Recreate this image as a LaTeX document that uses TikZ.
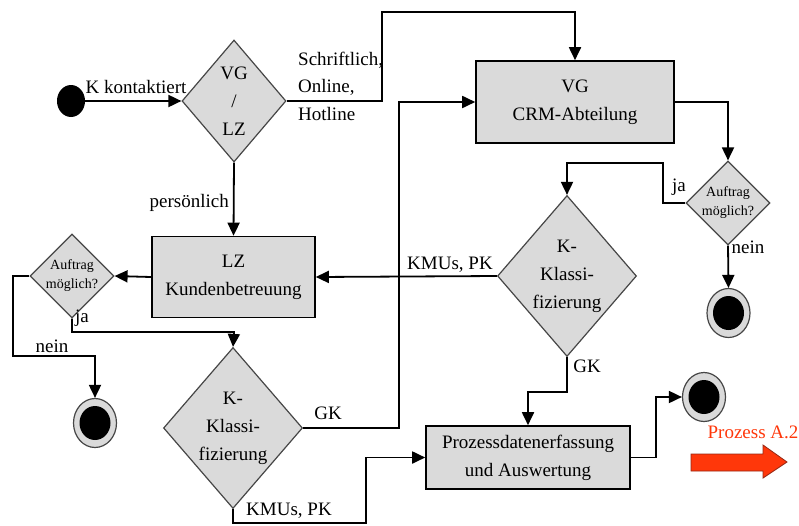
\documentclass[tikz,border=0pt]{standalone}
\usepackage{fontspec}
\setmainfont{Liberation Serif}
\usetikzlibrary{shapes.geometric,arrows.meta}
\definecolor{boxgray}{RGB}{218,218,218}
\definecolor{edgegray}{RGB}{70,70,70}
\definecolor{procred}{RGB}{255,55,10}
\definecolor{procedge}{RGB}{150,40,20}
\begin{document}
\begin{tikzpicture}[x=1pt,y=-1pt,
  every node/.style={font=\fontsize{19}{28}\selectfont},
  arr/.style={line width=1.8pt,-{Triangle[length=13pt,width=12pt]}},
  lbl/.style={inner sep=0pt},
  procbox/.style={rectangle,draw=black,line width=1.6pt,fill=boxgray,align=center,inner sep=0pt},
  decision/.style={diamond,draw=edgegray,line width=1.2pt,fill=boxgray,align=center,inner sep=0pt},
  smalldecision/.style={decision,font=\fontsize{14}{19}\selectfont,shape aspect=1,
    minimum width=78pt,minimum height=76pt},
  endring/.style={ellipse,draw=edgegray,line width=1.2pt,fill=boxgray,minimum width=43pt,minimum height=49pt,inner sep=0pt},
  enddot/.style={ellipse,fill=black,minimum width=31pt,minimum height=34pt,inner sep=0pt},
]
\useasboundingbox (0,0) rectangle (799,525);

% start
\node[ellipse,fill=black,minimum width=28pt,minimum height=32pt,inner sep=0pt] (start) at (71,101) {};

% decisions
\node[decision,shape aspect=0.85,minimum width=104pt,minimum height=122pt] (d1) at (234,101) {VG\\/\\LZ};
\node[decision,shape aspect=0.86,minimum width=139pt,minimum height=161pt] (d2) at (233,428) {K-\\Klassi-\\fizierung};
\node[decision,shape aspect=0.86,minimum width=139pt,minimum height=161pt] (d3) at (567,276) {K-\\Klassi-\\fizierung};
\node[smalldecision] (aufL) at (72,276) {Auftrag\\möglich?};
\node[smalldecision] (aufR) at (728,203) {Auftrag\\möglich?};

% activity boxes
\node[procbox,minimum width=198pt,minimum height=82pt] (crm) at (575,102) {VG\\CRM-Abteilung};
\node[procbox,minimum width=163pt,minimum height=81pt] (lz) at (233.5,277) {LZ\\Kundenbetreuung};
\node[procbox,minimum width=204pt,minimum height=63pt] (proc) at (528,457.5) {Prozessdatenerfassung\\und Auswertung};

% end states
\node[endring] (endL) at (95,423) {};
\node[enddot] (endLdot) at (95,423) {};
\node[endring] (endR) at (728.5,313) {};
\node[enddot] (endRdot) at (728.5,313) {};
\node[endring] (endB) at (704,397) {};
\node[enddot] (endBdot) at (704,397) {};

% bend points
\coordinate (c1) at (382,12);
\coordinate (c2) at (13,356);
\coordinate (c3) at (234,332);
\coordinate (c4) at (399,300);
\coordinate (c5) at (366,523);
\coordinate (c6) at (663,163);
\coordinate (c7) at (528,392);
\coordinate (c8) at (656,397);

% connectors
\draw[arr] (start) -- (d1.west);
\draw[arr] (d1.east) -| (c1) -| (crm.north);
\draw[arr] (d1.south) -- (lz.north);
\draw[arr] (lz.west) -- (aufL.east);
\draw[arr] (aufL.west) -| (c2) -| (endL.north);
\draw[arr] (aufL.south) |- (c3) -- (d2.north);
\draw[arr] (d2.east) -| (c4) |- (crm.west);
\draw[arr] (d2.south) |- (c5) |- (proc.west);
\draw[arr] (crm.east) -| (aufR.north);
\draw[arr] (aufR.west) -| (c6) -| (d3.north);
\draw[arr] (aufR.south) -- (endR.north);
\draw[arr] (d3.west) -- (lz.east);
\draw[arr] (d3.south) |- (c7) -- (proc.north);
\draw[arr] (proc.east) -| (c8) -- (endB.west);

% connector labels
\node[lbl] (lkont) at (136,87) {K kontaktiert};
\node[lbl,anchor=west,align=left,font=\fontsize{19}{27.5}\selectfont] (lschr) at (298,86) {Schriftlich,\\Online,\\Hotline};
\node[lbl,anchor=east] (lpers) at (229,203) {persönlich};
\node[lbl] (lneinL) at (52,346) {nein};
\node[lbl] (ljaL) at (82,318) {ja};
\node[lbl] (lgkL) at (328,413) {GK};
\node[lbl] (lkmuL) at (289,511) {KMUs, PK};
\node[lbl] (ljaR) at (679,187) {ja};
\node[lbl] (lneinR) at (748,247) {nein};
\node[lbl] (lkmuR) at (450,265) {KMUs, PK};
\node[lbl] (lgkR) at (587,366) {GK};

% hand-over to the next process
\node[lbl,text=procred] (nextlbl) at (753,432) {Prozess A.2};
\filldraw[fill=procred,draw=procedge,line width=0.8pt]
  (691,454) -- (763,454) -- (763,445) -- (787,462) -- (763,478) -- (763,471) -- (691,471) -- cycle;
\end{tikzpicture}
\end{document}
